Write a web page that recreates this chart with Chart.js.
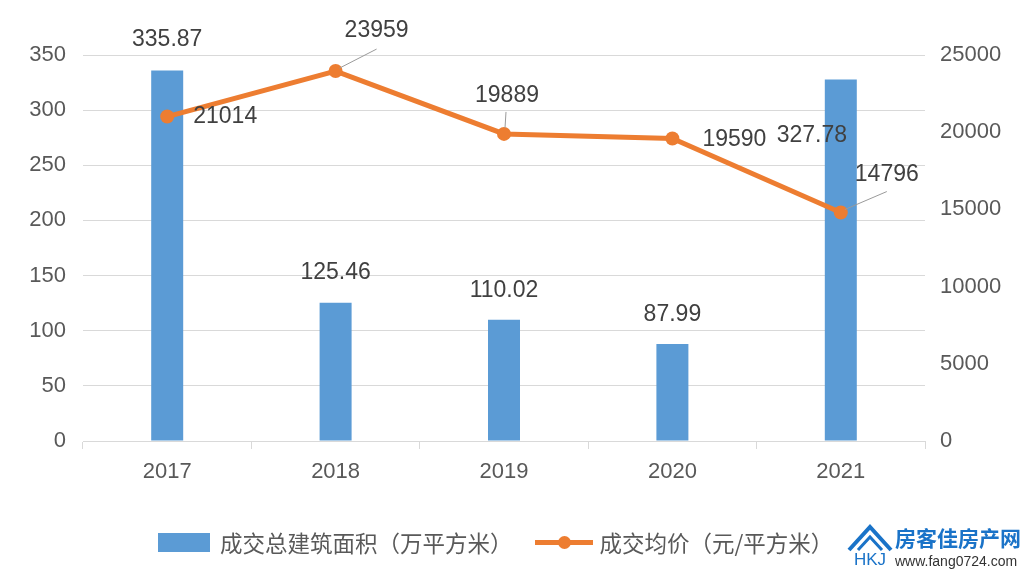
<!DOCTYPE html>
<html><head><meta charset="utf-8">
<script src="https://cdn.jsdelivr.net/npm/chart.js@4.4.0/dist/chart.umd.min.js"></script>
<style>
html,body{margin:0;padding:0;background:#fff;}
#wrap{position:relative;width:1028px;height:574px;overflow:hidden;}
canvas{position:absolute;left:0;top:0;}
#legend{position:absolute;top:526px;left:158px;display:flex;align-items:center;font-family:"Noto Sans CJK SC",sans-serif;font-size:22.5px;color:#595959;}
.item{display:flex;align-items:center;}
.box{width:52px;height:19px;margin-right:10px;}
.ln{position:relative;width:58px;height:5px;margin-right:7px;}
.ln i{position:absolute;left:23px;top:-4px;width:13px;height:13px;border-radius:50%;}
#logo{position:absolute;left:846px;top:522px;width:182px;height:52px;font-family:"Noto Sans CJK SC",sans-serif;}
#logo .t{position:absolute;left:49px;top:2px;font-size:21px;font-weight:bold;color:#1a73c8;line-height:26px;}
#logo .u{position:absolute;left:49px;top:31px;font-size:14px;color:#333;font-family:"Liberation Sans",Arial,sans-serif;line-height:16px;}
#logo .hk{position:absolute;left:8px;top:29px;font-size:17px;color:#1a73c8;font-family:"Liberation Sans",Arial,sans-serif;line-height:18px;}
</style></head>
<body><div id="wrap"><canvas id="c" width="1028" height="574"></canvas>
<div id="legend"></div>
<div id="logo"><svg width="48" height="32" style="position:absolute;left:0;top:0"><polyline points="3,28 24,5 45,28" fill="none" stroke="#1a73c8" stroke-width="4" stroke-linejoin="miter"/><polyline points="12,28 24,15 36,28" fill="none" stroke="#1a73c8" stroke-width="3"/></svg><span class="t">房客佳房产网</span><span class="hk">HKJ</span><span class="u">www.fang0724.com</span></div>
</div>
<script>
const categories = ['2017','2018','2019','2020','2021'];
const areaLabel = '成交总建筑面积（万平方米）';
const priceLabel = '成交均价（元/平方米）';
const areaValues = [335.87, 125.46, 110.02, 87.99, 327.78];
const priceValues = [21014, 23959, 19889, 19590, 14796];
const areaTicks = [0, 50, 100, 150, 200, 250, 300, 350];
const priceTicks = [0, 5000, 10000, 15000, 20000, 25000];

const BLUE = '#5B9BD5', ORANGE = '#ED7D31';
const FONT = '"Liberation Sans", Arial, Helvetica, sans-serif';

// label placement (pixel offsets from the mark), style only
const labelStyle = {
  area: [[0,-31],[0,-30],[0,-29],[0,-29],[-29,56]],
  price: [[58,0],[41,-40],[3,-38],[62,1],[46,-38]],
  leaders: {price: [null,[[4,-3],[41,-22]],[[1,-6],[2,-22]],null,[[4,-3],[46,-21]]]}
};

const labelsPlugin = {
  id: 'valLabels',
  afterDatasetsDraw(chart) {
    const ctx = chart.ctx;
    ctx.save();
    ctx.font = '23px ' + FONT;
    ctx.fillStyle = '#404040';
    ctx.textAlign = 'center';
    ctx.textBaseline = 'middle';
    chart.data.datasets.forEach((ds, di) => {
      const meta = chart.getDatasetMeta(di);
      const key = ds.key;
      meta.data.forEach((el, i) => {
        const off = labelStyle[key][i];
        const lead = labelStyle.leaders[key] && labelStyle.leaders[key][i];
        if (lead) {
          ctx.strokeStyle = '#9a9a9a';
          ctx.lineWidth = 1;
          ctx.beginPath();
          ctx.moveTo(el.x + lead[0][0], el.y + lead[0][1]);
          ctx.lineTo(el.x + lead[1][0], el.y + lead[1][1]);
          ctx.stroke();
        }
        const v = ds.data[i];
        ctx.fillText(String(v), el.x + off[0], el.y + off[1]);
      });
    });
    ctx.restore();
  }
};

const chart = new Chart(document.getElementById('c'), {
  type: 'bar',
  data: {
    labels: categories,
    datasets: [
      { key: 'price', type: 'line', label: priceLabel, data: priceValues, yAxisID: 'y1',
        borderColor: ORANGE, backgroundColor: ORANGE, borderWidth: 5,
        pointRadius: 7, pointBackgroundColor: ORANGE, pointBorderWidth: 0, tension: 0, order: 0 },
      { key: 'area', type: 'bar', label: areaLabel, data: areaValues, yAxisID: 'y',
        backgroundColor: BLUE, barPercentage: 0.19, categoryPercentage: 1, order: 1 }
    ]
  },
  options: {
    responsive: false,
    animation: false,
    devicePixelRatio: 1,
    layout: { padding: { top: 55, bottom: 83, left: 0, right: 0 } },
    plugins: { legend: { display: false }, tooltip: { enabled: false } },
    scales: {
      x: {
        grid: { display: true, drawOnChartArea: false, drawTicks: true, tickLength: 8, color: '#d9d9d9', offset: true },
        border: { display: true, color: '#d9d9d9' },
        ticks: { padding: 10, color: '#595959', font: { family: FONT, size: 22 } },
        afterFit(s) { s.height = 50; }
      },
      y: {
        position: 'left', min: 0, max: 350,
        afterBuildTicks(s) { s.ticks = areaTicks.map(v => ({ value: v })); },
        grid: { color: '#d9d9d9', drawTicks: false, lineWidth: 1 },
        border: { display: false },
        ticks: { padding: 17, color: '#595959', font: { family: FONT, size: 22 } },
        afterFit(s) { s.width = 83; }
      },
      y1: {
        position: 'right', min: 0, max: 25000,
        afterBuildTicks(s) { s.ticks = priceTicks.map(v => ({ value: v })); },
        grid: { drawOnChartArea: false, drawTicks: false },
        border: { display: false },
        ticks: { padding: 15, color: '#595959', font: { family: FONT, size: 22 }, callback: v => String(v) },
        afterFit(s) { s.width = 103; }
      }
    }
  },
  plugins: [labelsPlugin]
});

// legend from the dataset labels
const lg = document.getElementById('legend');
[chart.data.datasets[1], chart.data.datasets[0]].forEach((ds, k) => {
  const it = document.createElement('div');
  it.className = 'item';
  if (ds.type === 'bar') {
    it.innerHTML = '<span class="box" style="background:' + ds.backgroundColor + '"></span><span>' + ds.label + '</span>';
    it.style.marginRight = '22px';
  } else {
    it.innerHTML = '<span class="ln" style="background:' + ds.borderColor + '"><i style="background:' + ds.borderColor + '"></i></span><span>' + ds.label + '</span>';
  }
  lg.appendChild(it);
});
</script>
</body></html>
